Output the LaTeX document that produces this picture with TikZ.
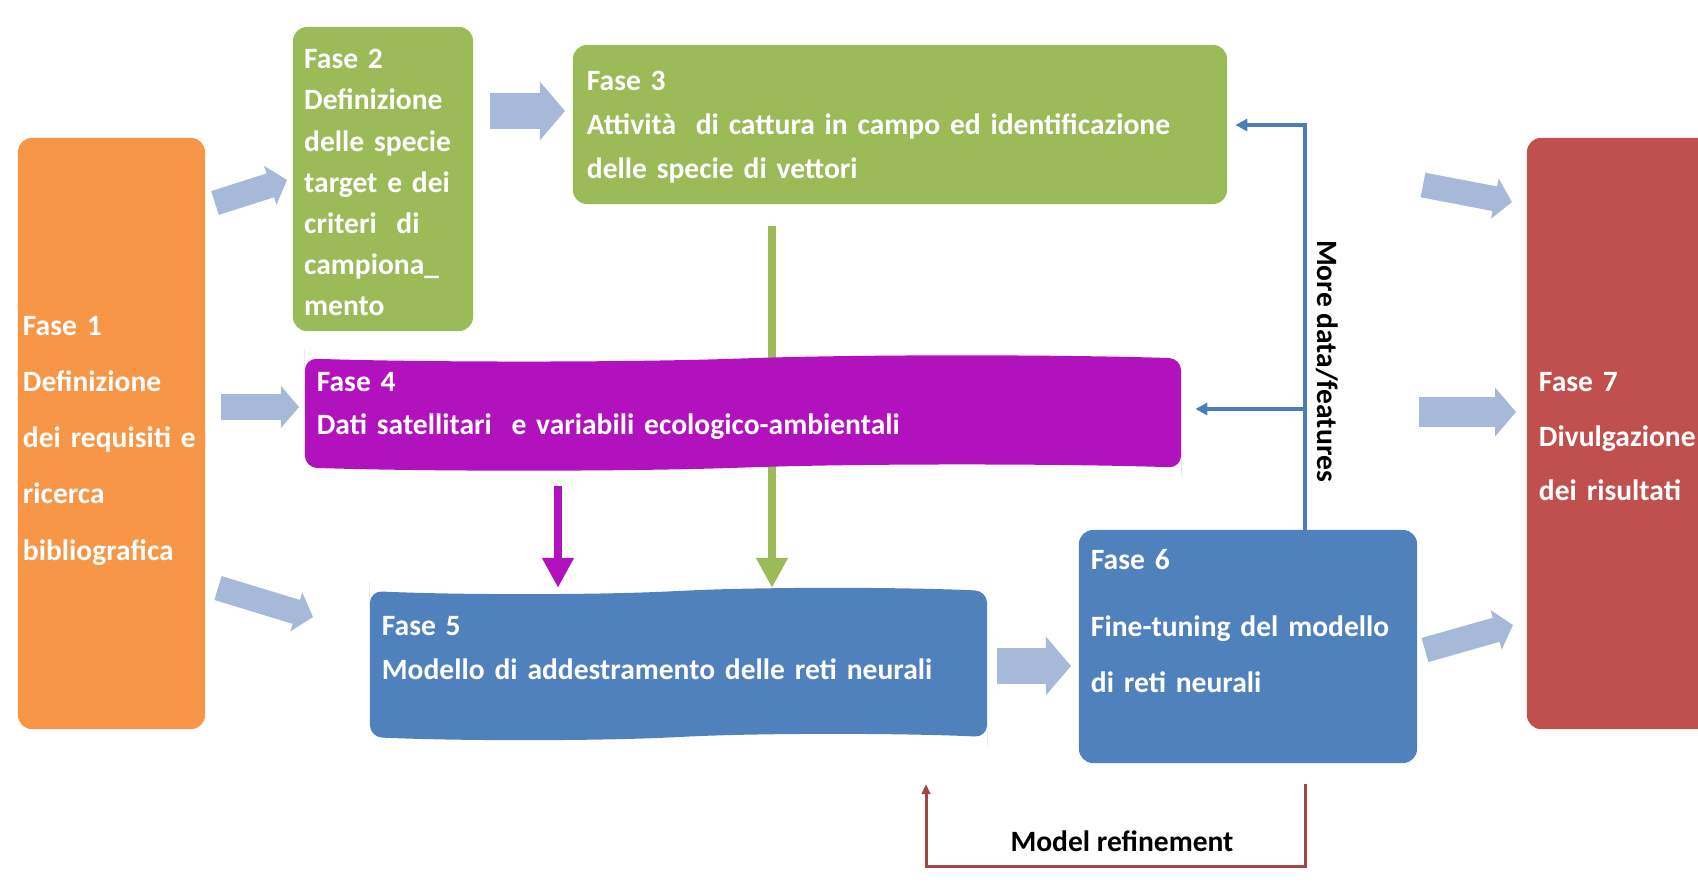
\documentclass[tikz,border=0pt]{standalone}
\usepackage{fontspec}
\setmainfont{Carlito}
\usetikzlibrary{arrows.meta, shapes.symbols, backgrounds}

\definecolor{faseorange}{RGB}{247,150,70}
\definecolor{fasegreen}{RGB}{155,187,89}
\definecolor{fasepurple}{RGB}{178,18,190}
\definecolor{faseblue}{RGB}{79,129,189}
\definecolor{fasered}{RGB}{192,80,77}
\definecolor{blockgrey}{RGB}{167,185,216}
\definecolor{linkblue}{RGB}{74,126,187}
\definecolor{refinered}{RGB}{165,70,68}

\newcommand{\fasefont}[1]{\fontsize{21}{#1}\selectfont\bfseries}
\newcommand{\fasestrut}[1]{\rule{0pt}{#1}}

\begin{document}
\begin{tikzpicture}[x=0.025cm, y=-0.025cm,
    fase/.style={rounded corners=0.35cm, text=white, align=left, inner xsep=0.3cm, inner ysep=0pt},
    tapebox/.style={tape, tape bend top=in and out, tape bend bottom=in and out, tape bend height=0.15cm, rounded corners=0.3cm, text=white, align=left, inner xsep=0.3cm, inner ysep=0pt},
    blockarrow/.style={draw=blockgrey, line width=#1, -{Triangle[width=0pt 1.6, length=0pt 0.7]}},
    blockarrow/.default=0.9cm,
    thinarrow/.style={line width=0.2cm, -{Triangle[length=0.75cm, width=0.75cm]}},
    linkarrow/.style={draw=linkblue, line width=0.09cm, -{Triangle[length=0.3cm, width=0.3cm]}},
    refinearrow/.style={draw=refinered, line width=0.075cm, -{Triangle[length=0.25cm, width=0.22cm]}},
    note/.style={font=\fasefont{25}, inner sep=0pt}]
    \useasboundingbox (0,0) rectangle (1698,894);
    \clip (0,0) rectangle (1698,894);

    % phases
    \node[fase, fill=faseorange, inner xsep=0.125cm, text width=4.425cm, minimum height=14.775cm, font=\fasefont{40}] (f1) at (111.5,433.5)
        {\fasestrut{23.5pt}Fase 1\\ Definizione\\ dei requisiti e\\ ricerca\\ bibliografica};
    \node[fase, fill=fasegreen, inner xsep=0.28cm, text width=3.94cm, minimum height=7.6cm, font=\fasefont{29.3}] (f2) at (383,179)
        {\fasestrut{19pt}Fase 2\\ Definizione\\ delle specie\\ target e dei\\ criteri~ di\\ campiona\_\\ mento};
    \node[fase, fill=fasegreen, inner xsep=0.35cm, text width=15.65cm, minimum height=3.975cm, font=\fasefont{31.5}] (f3) at (900,124.5)
        {\fasestrut{17.5pt}Fase 3\\ Attività~ di cattura in campo ed identificazione\\ delle specie di vettori};
    \node[tapebox, fill=fasepurple, text width=21.3cm, minimum height=2.8cm, font=\fasefont{31}] (f4) at (743,413)
        {\fasestrut{21.3pt}Fase 4\\ Dati satellitari~ e variabili ecologico-ambientali\\[-0.35cm]\mbox{}};
    \node[tapebox, fill=faseblue, text width=14.825cm, minimum height=3.8cm, font=\fasefont{31}] (f5) at (678.5,664)
        {Fase 5\\ Modello di addestramento delle reti neurali\\[-0.3cm]\mbox{}};
    \node[fase, fill=faseblue, text width=7.85cm, minimum height=5.825cm, font=\fasefont{40}] (f6) at (1248,646.5)
        {\fasestrut{18pt}Fase 6\\[0.25cm] Fine-tuning del modello\\ di reti neurali\\ \mbox{}};
    \node[fase, fill=fasered, text width=4.5cm, minimum height=14.775cm, font=\fasefont{39}] (f7) at (1629,433.5)
        {\fasestrut{18pt}Fase 7\\ Divulgazione\\ dei risultati};

    % block arrows
    \coordinate (b1s) at (215,203);  \coordinate (b1e) at (287,180);
    \coordinate (b2s) at (221,407);  \coordinate (b2e) at (299,407);
    \coordinate (b3s) at (218,588);  \coordinate (b3e) at (313,617);
    \coordinate (b4s) at (490,111);  \coordinate (b4e) at (565,111);
    \coordinate (b5s) at (997,666);  \coordinate (b5e) at (1071,666);
    \coordinate (b6s) at (1423,185); \coordinate (b6e) at (1512,202);
    \coordinate (b7s) at (1419,412); \coordinate (b7e) at (1516,412);
    \coordinate (b8s) at (1425,650); \coordinate (b8e) at (1513,625);
    \draw[blockarrow=0.625cm] (b1s) -- (b1e);
    \draw[blockarrow=0.65cm] (b2s) -- (b2e);
    \draw[blockarrow=0.625cm] (b3s) -- (b3e);
    \draw[blockarrow] (b4s) -- (b4e);
    \draw[blockarrow] (b5s) -- (b5e);
    \draw[blockarrow=0.625cm] (b6s) -- (b6e);
    \draw[blockarrow=0.75cm] (b7s) -- (b7e);
    \draw[blockarrow=0.625cm] (b8s) -- (b8e);

    % data flow into the model
    \coordinate (gx) at (772,0);
    \coordinate (px) at (558,0);
    \begin{scope}[on background layer]
        \draw[thinarrow, draw=fasegreen] ([yshift=-0.55cm]f3.south -| gx) -- ([yshift=0.075cm]f5.north -| gx);
    \end{scope}
    \draw[thinarrow, draw=fasepurple] ([yshift=-0.45cm]f4.south -| px) -- ([yshift=0.075cm]f5.north -| px);

    % feedback loops
    \coordinate (up) at (1305,125);
    \coordinate (branch) at (1305,409);
    \draw[linkarrow, shorten >=0.2cm] (f6.north -| up) -- (up) -- (f3.east |- up);
    \draw[linkarrow, shorten >=0.35cm] (branch) -- (f4.east |- branch);
    \node[note, rotate=-90] (more) at (1327,361) {More data/features};

    \coordinate (rr) at (1305,866);
    \coordinate (rl) at (926,866);
    \draw[refinearrow, shorten <=0.525cm, shorten >=1.175cm] (f6.south -| rr) -- (rr) -- (rl) -- (f5.south -| rl);
    \node[note] (refine) at (1122,841) {Model refinement};
\end{tikzpicture}
\end{document}
